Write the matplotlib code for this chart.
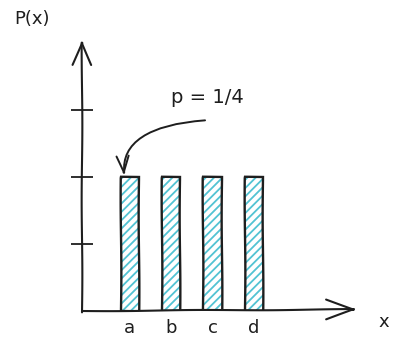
import numpy as np
import matplotlib
matplotlib.use("Agg")
import matplotlib.pyplot as plt

# data
outcomes = ["a", "b", "c", "d"]
probs = [0.25, 0.25, 0.25, 0.25]
yticks = [0.125, 0.25, 0.375]

plt.rcParams['path.sketch'] = (0.35, 150, 1)
plt.rcParams['hatch.linewidth'] = 1.3

fig = plt.figure(figsize=(4.01, 3.49), dpi=100)
# axes spans from the y-axis line to the arrow tips
ax = fig.add_axes([82/401, 38/349, 275/401, 271/349])

x = np.arange(len(outcomes))
ax.set_xlim(-1.16, 5.5)
ax.set_ylim(0, 0.506)

# hatched fill then black outline
ax.bar(x, probs, width=0.44, color="white", edgecolor="#52c3d3",
       hatch="////", linewidth=0)
ax.bar(x, probs, width=0.44, fill=False, edgecolor="#1e1e1e", linewidth=1.7)

for s in ax.spines.values():
    s.set_visible(False)

# hand drawn axes with open arrow heads
ax.annotate("", xy=(0, 1), xytext=(0, -0.005), xycoords="axes fraction",
            arrowprops=dict(arrowstyle="->,head_length=1.6,head_width=0.68",
                            color="#1e1e1e", lw=1.5, shrinkA=0, shrinkB=0))
ax.annotate("", xy=(1, 0.006), xytext=(0, 0), xycoords="axes fraction",
            arrowprops=dict(arrowstyle="->,head_length=2.0,head_width=0.72",
                            color="#1e1e1e", lw=1.5, shrinkA=0, shrinkB=0))

ax.set_yticks(yticks)
ax.tick_params(axis="y", direction="inout", length=16, width=1.3,
               color="#1e1e1e", labelleft=False)
ax.set_xticks(x, outcomes)
ax.tick_params(axis="x", length=0, pad=6, labelsize=13, labelcolor="#1e1e1e")

# annotation text and curved arrow
ax.text(1.87, 0.398, "p = 1/4", fontsize=14, color="#1e1e1e",
        ha="center", va="center")
ax.annotate("", xy=(x[0] - 0.14, probs[0] + 0.003),
            xytext=(1.82, 0.356),
            arrowprops=dict(arrowstyle="->,head_length=1.2,head_width=0.45",
                            connectionstyle="angle3,angleA=5,angleB=95",
                            color="#1e1e1e", lw=1.4, shrinkA=0, shrinkB=0))

fig.text(32/401, 1 - 19/349, "P(x)", fontsize=13, color="#1e1e1e",
         ha="center", va="center")
fig.text(384/401, 1 - 322/349, "x", fontsize=13, color="#1e1e1e",
         ha="center", va="center")

fig.savefig("out.png", dpi=100, facecolor="white")
